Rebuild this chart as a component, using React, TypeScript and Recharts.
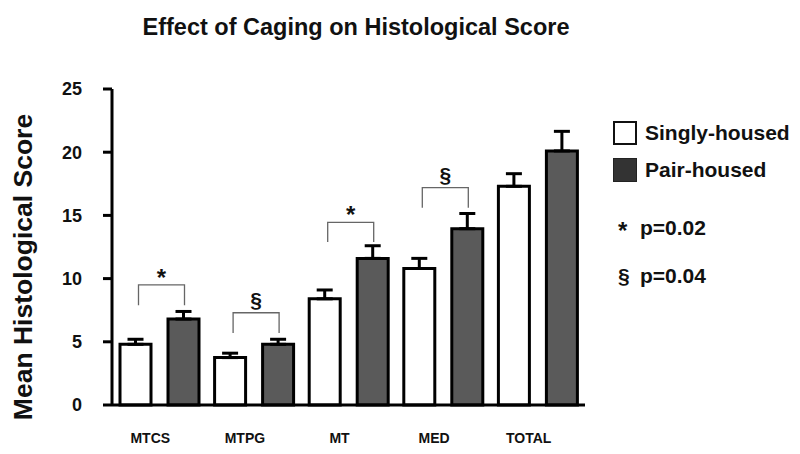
import React from 'react';
import { BarChart, Bar, XAxis, YAxis, ErrorBar, Rectangle } from 'recharts';

const categories = ['MTCS', 'MTPG', 'MT', 'MED', 'TOTAL'];
const singlyHoused = [4.8, 3.75, 8.4, 10.8, 17.3];
const pairHoused = [6.8, 4.8, 11.6, 13.95, 20.1];
const singlyErr = [0.4, 0.35, 0.7, 0.8, 1.0];
const pairErr = [0.6, 0.4, 1.0, 1.2, 1.55];
// significance brackets drawn over each pair
const sigMarks = ['*', '§', '*', '§', ''];
const bracketTop = [9.5, 7.3, 14.45, 17.2, 0];
const bracketBottom = [7.9, 5.7, 12.9, 15.6, 0];
const yTicks = [0, 5, 10, 15, 20, 25];

const data = categories.map((name, i) => ({
  name,
  single: singlyHoused[i],
  pair: pairHoused[i],
  singleErr: [0, singlyErr[i]],
  pairErr: [0, pairErr[i]],
  mark: sigMarks[i],
  top: bracketTop[i],
  bottom: bracketBottom[i],
}));

const FONT = '"Liberation Sans", Arial, sans-serif';
const BAR_SIZE = 31;
const BAR_GAP = 17;

// pair bar + bracket; the y scale is taken from the bar's own geometry
const PairShape = (props: any) => {
  const { x, y, width, height, payload } = props;
  const base = y + height;
  const perUnit = height / payload.pair;
  const right = x + width / 2 + 1;
  const left = x + width / 2 - (width + BAR_GAP) + 3;
  return (
    <g>
      <Rectangle {...props} />
      {payload.mark && (
        <g>
          <path
            d={`M${left},${base - payload.bottom * perUnit} V${base - payload.top * perUnit} H${right} V${base - payload.bottom * perUnit}`}
            fill="none"
            stroke="#666"
            strokeWidth={1.3}
          />
          <text
            x={(left + right) / 2}
            y={base - payload.top * perUnit + (payload.mark === '*' ? 1 : -6)}
            textAnchor="middle"
            fontFamily={FONT}
            fontWeight="bold"
            fontSize={payload.mark === '*' ? 24 : 21}
            fill="#111"
          >
            {payload.mark}
          </text>
        </g>
      )}
    </g>
  );
};

const legendRow: React.CSSProperties = {
  display: 'flex',
  alignItems: 'center',
  height: 24,
};

export default function App() {
  return (
    <div style={{ position: 'absolute', left: 0, top: 0, width: 800, height: 454, background: '#fff', fontFamily: FONT }}>
      <div
        style={{
          position: 'absolute',
          left: 0,
          width: 712,
          top: 14,
          textAlign: 'center',
          fontSize: 23.5,
          fontWeight: 'bold',
          color: '#111',
        }}
      >
        Effect of Caging on Histological Score
      </div>
      <div
        style={{
          position: 'absolute',
          left: 23,
          top: 267,
          transform: 'translate(-50%, -50%) rotate(-90deg)',
          whiteSpace: 'nowrap',
          fontSize: 26.5,
          fontWeight: 'bold',
          color: '#111',
        }}
      >
        Mean Histological Score
      </div>

      <BarChart
        width={800}
        height={454}
        data={data}
        margin={{ top: 89, right: 215, bottom: 19, left: 52 }}
        barSize={BAR_SIZE}
        barGap={BAR_GAP}
      >
        <XAxis
          dataKey="name"
          height={30}
          axisLine={{ stroke: '#000', strokeWidth: 3 }}
          tickLine={false}
          tickSize={0}
          tickMargin={28}
          tick={{ fontSize: 14, fontWeight: 'bold', fill: '#111', fontFamily: FONT, dx: -9 }}
        />
        <YAxis
          width={60}
          domain={[0, 25]}
          ticks={yTicks}
          axisLine={{ stroke: '#000', strokeWidth: 3 }}
          tickLine={{ stroke: '#000', strokeWidth: 3 }}
          tickSize={9}
          tickMargin={21}
          tick={{ fontSize: 18, fontWeight: 'bold', fill: '#111', fontFamily: FONT }}
        />
        <Bar dataKey="single" fill="#fff" stroke="#000" strokeWidth={3} isAnimationActive={false}>
          <ErrorBar dataKey="singleErr" direction="y" width={8} stroke="#000" strokeWidth={3} />
        </Bar>
        <Bar
          dataKey="pair"
          fill="#5a5a5a"
          stroke="#000"
          strokeWidth={3}
          isAnimationActive={false}
          shape={PairShape}
        >
          <ErrorBar dataKey="pairErr" direction="y" width={8} stroke="#000" strokeWidth={3} />
        </Bar>
      </BarChart>

      <div style={{ position: 'absolute', left: 613, top: 121, fontSize: 21, fontWeight: 'bold', color: '#111' }}>
        <div style={{ ...legendRow }}>
          <span style={{ display: 'inline-block', width: 20, height: 20, border: '2px solid #111', background: '#fff', marginRight: 8 }} />
          Singly-housed
        </div>
        <div style={{ ...legendRow, marginTop: 13 }}>
          <span style={{ display: 'inline-block', width: 22, height: 22, border: '1px solid #222', background: '#333', marginRight: 8 }} />
          Pair-housed
        </div>
        <div style={{ ...legendRow, marginTop: 34 }}>
          <span style={{ display: 'inline-block', width: 22, marginLeft: 5, fontSize: 24, paddingTop: 6 }}>*</span>
          p=0.02
        </div>
        <div style={{ ...legendRow, marginTop: 24 }}>
          <span style={{ display: 'inline-block', width: 22, marginLeft: 5 }}>§</span>
          p=0.04
        </div>
      </div>
    </div>
  );
}
